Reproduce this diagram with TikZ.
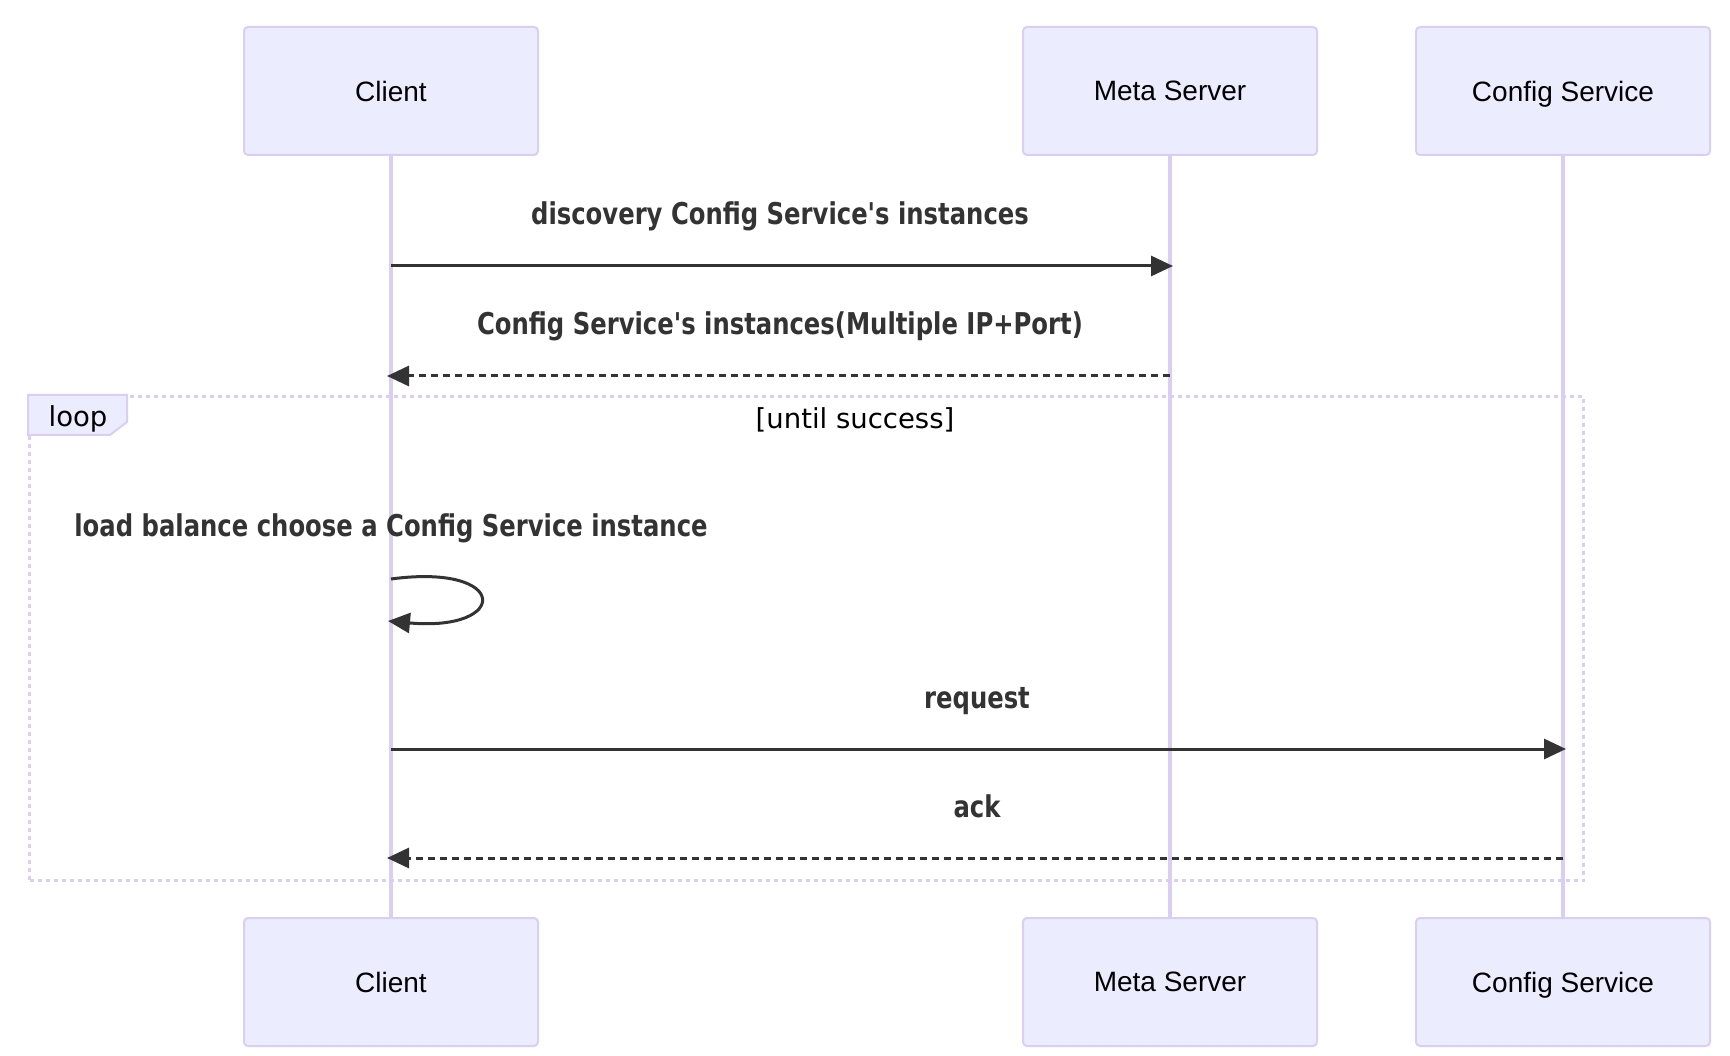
\documentclass[tikz,border=0pt]{standalone}
\usepackage{fontspec}
\usetikzlibrary{arrows.meta}
\newfontfamily\actorfont{Liberation Sans}
\newfontfamily\msgfont[FakeStretch=0.81,Ligatures=TeXOff]{DejaVu Sans}
\newfontfamily\loopfont[Ligatures=TeXOff]{DejaVu Sans}
\definecolor{actorfill}{HTML}{ECECFF}
\definecolor{actorline}{HTML}{DACEF3}
\definecolor{msgcol}{HTML}{333333}
\begin{document}
\begin{tikzpicture}[x=1pt,y=-1pt,
  actor/.style={draw=actorline, fill=actorfill, line width=2pt, rounded corners=4pt,
    minimum width=294pt, minimum height=128pt, inner sep=0pt,
    font=\actorfont\fontsize{28}{32}\selectfont, text depth=0pt},
  life/.style={draw=actorline, line width=3.5pt},
  msg/.style={draw=msgcol, line width=3pt, -{Triangle[length=22pt,width=20pt]}},
  reply/.style={msg, dash pattern=on 7pt off 5pt},
  msglabel/.style={font=\msgfont\bfseries\fontsize{30}{34}\selectfont, text=msgcol, anchor=base, inner sep=0pt},
  loopframe/.style={draw=actorline, line width=3pt, dash pattern=on 4pt off 4pt},
  looptext/.style={font=\loopfont\fontsize{27.5}{31}\selectfont, text=black, anchor=base, inner sep=0pt}
]
\useasboundingbox[fill=white] (0,0) rectangle (1730,1056);

% actors
\node[actor] (ct) at (391,91) {Client};
\node[actor] (mt) at (1170,91) {Meta Server};
\node[actor] (st) at (1563,91) {Config Service};
\node[actor] (cb) at (391,982) {Client};
\node[actor] (mb) at (1170,982) {Meta Server};
\node[actor] (sb) at (1563,982) {Config Service};

% lifelines
\draw[life] (ct.south) -- (cb.north);
\draw[life] (mt.south) -- (mb.north);
\draw[life] (st.south) -- (sb.north);

% loop frame
\node[loopframe, minimum width=1554pt, minimum height=484pt, anchor=north west, inner sep=0pt] (loopbox) at (28,395) {};
\draw[draw=actorline, fill=actorfill, line width=2pt] (28,395) -- (127,395) -- (127,422) -- (110,435) -- (28,435) -- cycle;
\node[looptext] (looplbl) at (78,427) {loop};
\node[looptext] (loopcond) at (855,429) {[until success]};

% message anchor points on lifelines
\coordinate (c1) at (391,266);
\coordinate (m1) at (1173,266);
\coordinate (m2) at (1170,376);
\coordinate (c2) at (387,376);
\coordinate (c3a) at (391,579);
\coordinate (c3b) at (388,621);
\coordinate (c4) at (391,749);
\coordinate (s4) at (1566,749);
\coordinate (s5) at (1563,858);
\coordinate (c5) at (387,858);

% messages
\node[msglabel] (l1) at (780,225) {discovery Config Service's instances};
\draw[msg] (c1) -- (m1);
\node[msglabel] (l2) at (780,335) {Config Service's instances(Multiple IP+Port)};
\draw[reply] (m2) -- (c2);
\node[msglabel] (l3) at (391,536) {load balance choose a Config Service instance};
\draw[msg] (c3a) .. controls (510,563) and (510,632) .. (c3b);
\node[msglabel] (l4) at (977,708) {request};
\draw[msg] (c4) -- (s4);
\node[msglabel] (l5) at (977,817) {ack};
\draw[reply] (s5) -- (c5);
\end{tikzpicture}
\end{document}
